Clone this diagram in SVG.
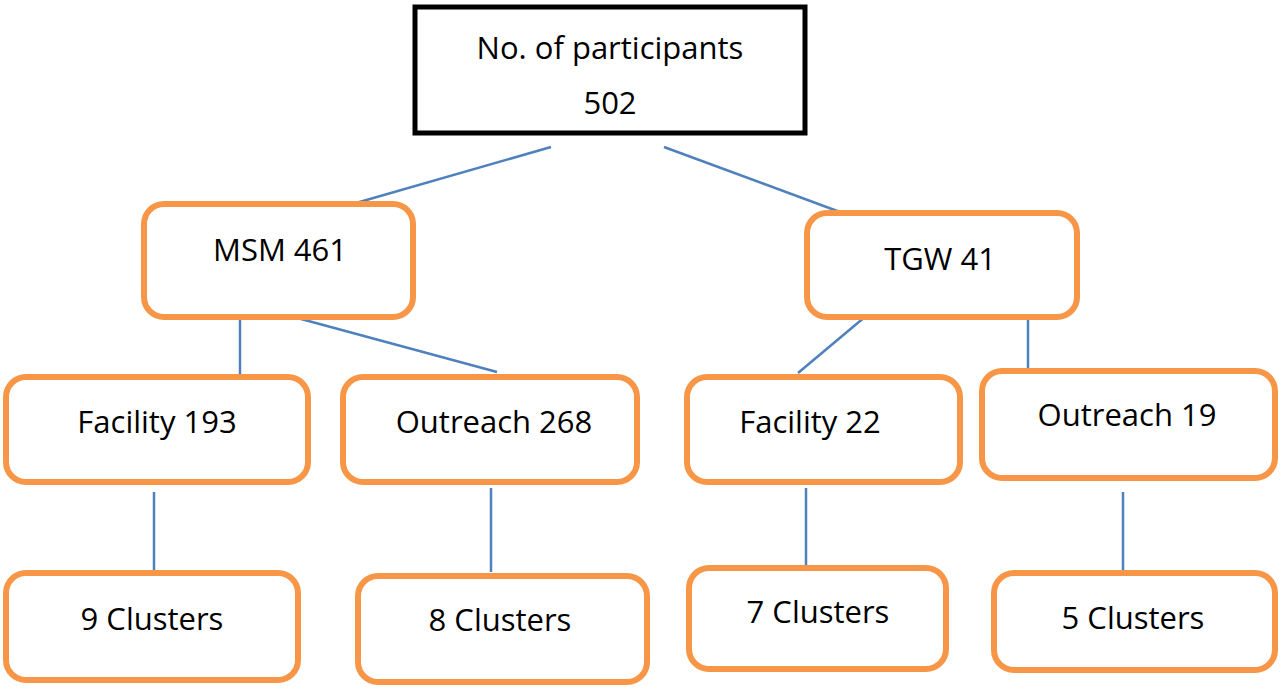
<svg xmlns="http://www.w3.org/2000/svg" width="1280" height="689" viewBox="0 0 1280 689">
<style>
.b{fill:#fff;stroke:#F79646;stroke-width:6}
.t{font-family:"Open Sans","Liberation Sans",sans-serif;font-size:31px;fill:#000;text-anchor:middle;dominant-baseline:middle}
.c line{stroke:#4F81BD;stroke-width:2.5}
</style>
<rect width="1280" height="689" fill="#fff"/>
<g class="c">
<line x1="551" y1="147" x2="356" y2="203"/>
<line x1="664" y1="147" x2="840" y2="212"/>
<line x1="240" y1="318" x2="240" y2="376"/>
<line x1="290" y1="316" x2="497" y2="372"/>
<line x1="866" y1="316" x2="798" y2="373"/>
<line x1="1028" y1="318" x2="1028" y2="368"/>
<line x1="154" y1="492" x2="154" y2="573"/>
<line x1="491" y1="488" x2="491" y2="572"/>
<line x1="806" y1="488" x2="806" y2="565"/>
<line x1="1123" y1="492" x2="1123" y2="570"/>
</g>
<g id="root"><rect x="415" y="7" width="390" height="126" fill="#fff" stroke="#000" stroke-width="5"/>
<text class="t" x="610" y="51">No. of participants</text><text class="t" x="610" y="106">502</text></g>
<g id="msm"><rect class="b" x="144" y="204" width="269" height="113" rx="20"/><text class="t" x="280" y="253">MSM 461</text></g>
<g id="tgw"><rect class="b" x="807" y="213" width="270" height="104" rx="20"/><text class="t" x="940" y="262">TGW 41</text></g>
<g id="f193"><rect class="b" x="6" y="377" width="302" height="105" rx="20"/><text class="t" x="157" y="425">Facility 193</text></g>
<g id="o268"><rect class="b" x="343" y="377" width="294" height="105" rx="20"/><text class="t" x="494" y="425">Outreach 268</text></g>
<g id="f22"><rect class="b" x="687" y="377" width="273" height="105" rx="20"/><text class="t" x="810" y="425">Facility 22</text></g>
<g id="o19"><rect class="b" x="982" y="371" width="293" height="107" rx="20"/><text class="t" x="1127" y="418">Outreach 19</text></g>
<g id="c9"><rect class="b" x="6" y="573" width="292" height="107" rx="20"/><text class="t" x="152" y="622">9 Clusters</text></g>
<g id="c8"><rect class="b" x="358" y="576" width="289" height="106" rx="20"/><text class="t" x="500" y="623">8 Clusters</text></g>
<g id="c7"><rect class="b" x="689" y="568" width="257" height="101" rx="20"/><text class="t" x="818" y="615">7 Clusters</text></g>
<g id="c5"><rect class="b" x="994" y="573" width="281" height="97" rx="20"/><text class="t" x="1133" y="621">5 Clusters</text></g>
</svg>
